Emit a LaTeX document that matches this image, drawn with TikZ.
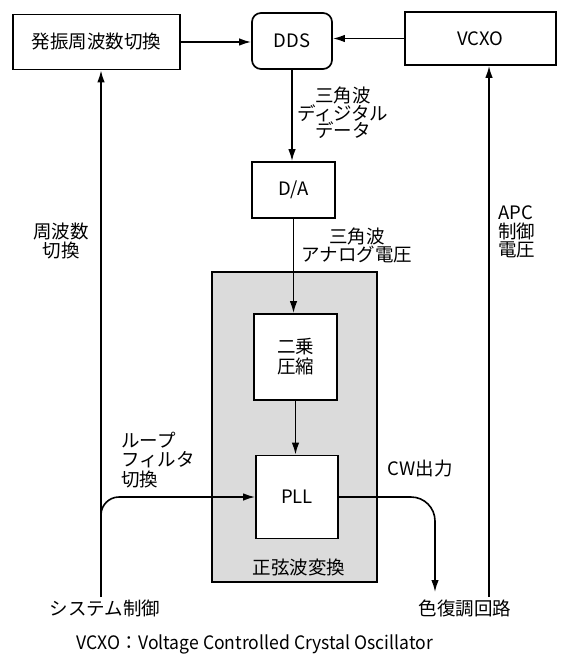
\documentclass[tikz,border=0pt]{standalone}
\usepackage{fontspec}
\setmainfont{Noto Sans CJK JP}
\usetikzlibrary{arrows.meta}
\begin{document}
\begin{tikzpicture}[x=1pt,y=-1pt,
  every node/.style={font=\fontsize{18.5}{18.5}\selectfont, inner sep=0pt},
  box/.style={draw, line width=1.7pt, fill=white},
  conn/.style={line width=1.6pt},
  arr/.style={conn, -{Latex[length=12pt,width=7.5pt]}},
  lbl/.style={align=center},
]
\useasboundingbox (0,0) rectangle (568,655);
% grey block
\node[draw, line width=1.7pt, fill=gray!28, minimum width=165pt, minimum height=310pt] (sine) at (294.5,427) {};
% boxes
\node[box, minimum width=167pt, minimum height=55pt] (osc) at (96.5,42) {発振周波数切換};
\node[box, rounded corners=9pt, minimum width=80pt, minimum height=56pt] (dds) at (292,41) {DDS};
\node[box, minimum width=151pt, minimum height=53pt] (vcxo) at (480.5,38.5) {VCXO};
\node[box, minimum width=83pt, minimum height=56pt] (da) at (293.5,190) {D/A};
\node[box, align=center, font=\fontsize{18.5}{20}\selectfont, minimum width=83pt, minimum height=86pt] (sq) at (295.5,357) {二乗\\圧縮};
\node[box, minimum width=82pt, minimum height=83pt] (pll) at (297,497) {PLL};
% labels
\node[lbl, font=\fontsize{18.5}{17.5}\selectfont] (dlbl) at (343,113) {三角波\\ディジタル\\データ};
\node[lbl, font=\fontsize{18.5}{17}\selectfont] (albl) at (357,245) {三角波\\アナログ電圧};
\node[lbl] (flbl) at (61,241) {周波数\\切換};
\node[align=left, anchor=west, font=\fontsize{18.5}{19.5}\selectfont] (loop) at (121,460) {ループ\\フィルタ\\切換};
\node[align=left, anchor=west, font=\fontsize{18.5}{18.5}\selectfont] (apc) at (498,232) {APC\\制御\\電圧};
\node (cw) at (420,469) {CW出力};
\node (demod) at (465,608) {色復調回路};
\node (sys) at (105,608) {システム制御};
\node (sinelbl) at (299,567) {正弦波変換};
\node (note) at (255,644) {\scalebox{0.95}[1]{VCXO：Voltage Controlled Crystal Oscillator}};
% coordinates
\coordinate (sysbot) at (101,597);
\coordinate (sysbr) at (101,530);
\coordinate (cwend) at (435,592);
\coordinate (apcbot) at (489,597);
% connectors
\draw[arr] (osc.east) -- (osc.east -| dds.west);
\draw[arr] (vcxo.west) -- (vcxo.west -| dds.east);
\draw[arr] (dds.south) -- (dds.south |- da.north);
\draw[arr] (da.south) -- (da.south |- sq.north);
\draw[arr] (sq.south) -- (sq.south |- pll.north);
\draw[arr] (sysbot) -- (sysbot |- osc.south);
\draw[arr, rounded corners=18pt] (sysbr) |- (pll.west);
\draw[arr, rounded corners=24pt] (pll.east) -| (cwend);
\draw[arr] (apcbot) -- (apcbot |- vcxo.south);
\end{tikzpicture}
\end{document}
